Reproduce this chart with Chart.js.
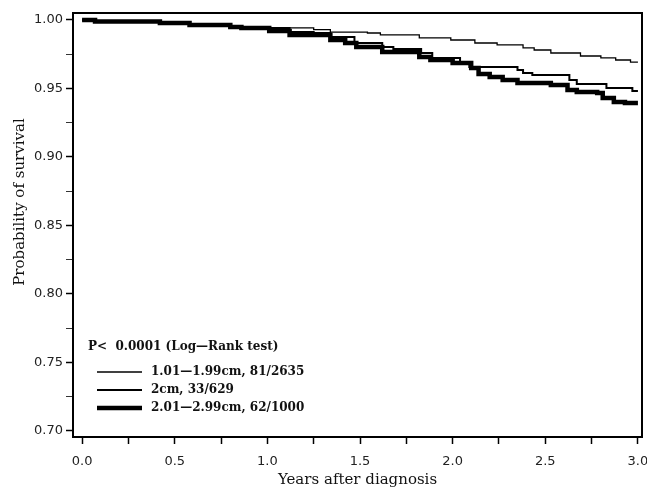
<!DOCTYPE html>
<html lang="en">
  <head>
    <meta charset="utf-8" />
    <title>Survival</title>
    <style>
      html, body { margin: 0; padding: 0; background: #fff; }
      .chart-wrapper { width: 647px; height: 490px; }
    </style>
  </head>
  <body>
    <div class="chart-wrapper">
      <canvas id="km" width="647" height="490"></canvas>
    </div>

    <script src="https://cdn.jsdelivr.net/npm/chart.js@4/dist/chart.umd.min.js"></script>
    <script>
      // data (Kaplan-Meier steps)
      const groupLabels = ["1.01\u20141.99cm, 81/2635", "2cm, 33/629", "2.01\u20142.99cm, 62/1000"];
      const pText = "P<  0.0001 (Log\u2014Rank test)";

      const timesA = [0, 0.07, 0.42, 0.58, 0.80, 0.86, 1.25, 1.34, 1.54, 1.61, 1.82, 1.99, 2.12, 2.24, 2.38, 2.44, 2.53, 2.69, 2.80, 2.88, 2.96, 3.0];
      const survA = [1.0, 0.9989, 0.9978, 0.9964, 0.9949, 0.9942, 0.993, 0.9912, 0.9905, 0.9891, 0.9869, 0.9854, 0.9832, 0.9818, 0.9796, 0.9781, 0.9759, 0.9737, 0.9723, 0.9708, 0.9693, 0.9693];

      const timesB = [0, 0.07, 0.42, 0.58, 0.80, 0.86, 1.12, 1.25, 1.34, 1.47, 1.62, 1.68, 1.83, 1.89, 2.04, 2.09, 2.35, 2.38, 2.43, 2.63, 2.67, 2.83, 2.97, 3.0];
      const survB = [1.0, 0.9989, 0.9978, 0.9964, 0.9949, 0.9942, 0.9912, 0.9905, 0.9876, 0.9832, 0.9803, 0.9788, 0.9759, 0.9723, 0.9693, 0.9657, 0.9635, 0.9613, 0.9599, 0.9562, 0.9533, 0.9504, 0.9482, 0.9482];

      const timesC = [0, 0.07, 0.42, 0.58, 0.80, 0.86, 1.01, 1.12, 1.34, 1.42, 1.48, 1.62, 1.82, 1.88, 2.0, 2.10, 2.14, 2.20, 2.27, 2.35, 2.53, 2.62, 2.67, 2.78, 2.81, 2.87, 2.93, 3.0];
      const survC = [1.0, 0.9989, 0.9978, 0.9964, 0.9949, 0.9942, 0.992, 0.9891, 0.9854, 0.9832, 0.9803, 0.9766, 0.973, 0.9708, 0.9686, 0.965, 0.9606, 0.9584, 0.9562, 0.954, 0.9526, 0.9489, 0.9474, 0.9467, 0.9431, 0.9401, 0.9394, 0.9394];

      const xTicks = [0, 0.25, 0.5, 0.75, 1.0, 1.25, 1.5, 1.75, 2.0, 2.25, 2.5, 2.75, 3.0];
      const yTicks = [0.70, 0.725, 0.75, 0.775, 0.80, 0.825, 0.85, 0.875, 0.90, 0.925, 0.95, 0.975, 1.00];

      const toPoints = (t, s) => t.map((v, i) => ({ x: v, y: s[i] }));
      const isMajor = (v, step) => Math.abs(v / step - Math.round(v / step)) < 1e-6;

      const widths = [1.3, 2, 4.5];

      // frame, y title and the legend inside the plot
      const decor = {
        id: "decor",
        afterDraw(chart) {
          const { ctx, chartArea: a } = chart;
          ctx.save();
          ctx.strokeStyle = "#000";
          ctx.lineWidth = 2;
          ctx.strokeRect(a.left, a.top, a.right - a.left, a.bottom - a.top);

          ctx.fillStyle = "#111";
          ctx.font = "15px 'DejaVu Serif'";
          ctx.textAlign = "center";
          ctx.textBaseline = "middle";
          ctx.translate(20, 202);
          ctx.rotate(-Math.PI / 2);
          ctx.fillText("Probability of survival", 0, 0);
          ctx.setTransform(1, 0, 0, 1, 0, 0);

          ctx.font = "bold 12px 'DejaVu Serif'";
          ctx.textAlign = "left";
          ctx.fillText(pText, 88, 347);
          const rows = [372, 390, 408];
          chart.data.datasets.forEach((ds, i) => {
            ctx.beginPath();
            ctx.lineWidth = ds.borderWidth;
            ctx.moveTo(97, rows[i]);
            ctx.lineTo(142, rows[i]);
            ctx.stroke();
            ctx.fillText(ds.label, 151, rows[i]);
          });
          ctx.restore();
        },
      };

      const context = document.getElementById("km").getContext("2d");
      const myChart = new Chart(context, {
        type: "line",
        data: {
          datasets: [
            { label: groupLabels[0], data: toPoints(timesA, survA), borderWidth: widths[0] },
            { label: groupLabels[1], data: toPoints(timesB, survB), borderWidth: widths[1] },
            { label: groupLabels[2], data: toPoints(timesC, survC), borderWidth: widths[2] },
          ].map((d) => ({ ...d, borderColor: "#000", stepped: true, pointRadius: 0, fill: false })),
        },
        options: {
          responsive: false,
          animation: false,
          layout: { padding: { top: 13, right: 5, left: 0, bottom: 0 } },
          plugins: { legend: { display: false }, tooltip: { enabled: false } },
          scales: {
            x: {
              type: "linear",
              min: -0.049,
              max: 3.022,
              afterBuildTicks: (s) => { s.ticks = xTicks.map((v) => ({ value: v })); },
              afterFit: (s) => {
                s.height = 53;
                s.paddingLeft = 0;
                s.paddingRight = 0;
              },
              border: { display: true, color: "#000", width: 2 },
              grid: { drawOnChartArea: false, color: "#000", tickLength: 7, tickWidth: 1.5 },
              ticks: {
                autoSkip: false,
                maxRotation: 0,
                padding: 10,
                color: "#222",
                font: { family: "DejaVu Sans", size: 13 },
                callback: (v) => (isMajor(v, 0.5) ? v.toFixed(1) : ""),
              },
              title: {
                display: true,
                text: "Years after diagnosis",
                color: "#111",
                font: { family: "DejaVu Serif", size: 15 },
                padding: { top: 0, bottom: 1 },
              },
            },
            y: {
              min: 0.6956,
              max: 1.0051,
              afterBuildTicks: (s) => { s.ticks = yTicks.map((v) => ({ value: v })); },
              afterFit: (s) => {
                s.width = 73;
                s.paddingTop = 0;
                s.paddingBottom = 0;
              },
              border: { display: true, color: "#000", width: 2 },
              grid: {
                drawOnChartArea: false,
                color: "#000",
                tickLength: 7,
                tickWidth: (c) => (isMajor(c.tick.value, 0.05) ? 1.5 : 0.8),
              },
              ticks: {
                autoSkip: false,
                padding: 3,
                color: "#222",
                font: { family: "DejaVu Sans", size: 13 },
                callback: (v) => (isMajor(v, 0.05) ? v.toFixed(2) : ""),
              },
            },
          },
        },
        plugins: [decor],
      });
    </script>
  </body>
</html>
